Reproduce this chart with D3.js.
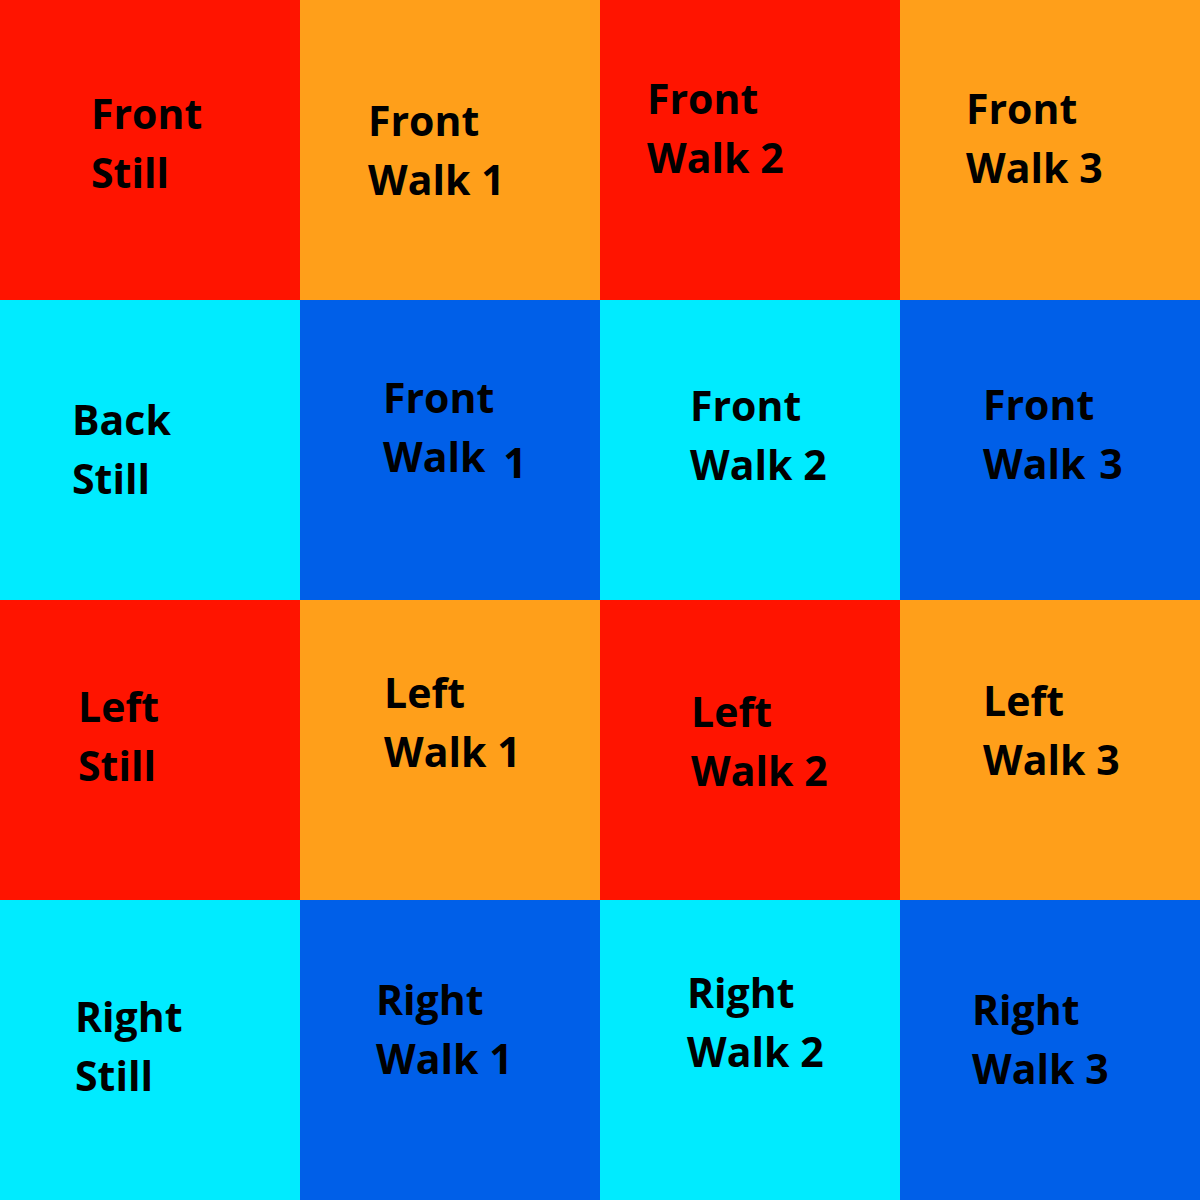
<!DOCTYPE html>
<html>
<head>
    <meta charset="utf-8">
    <script src="https://d3js.org/d3.v7.min.js"></script>
</head>
<style>
    body { margin: 0px; }
    .cell-label {
      font-family: "Open Sans", sans-serif;
      font-weight: bold;
      font-size: 41px;
      fill: #000;
    }
</style>
<body>
<div id="my_dataviz"></div>
<script>
    // grid rows / columns
    var rows = ["r0", "r1", "r2", "r3"];
    var cols = ["c0", "c1", "c2", "c3"];

    // first and second line of each cell, row by row
    var line1 = [
        "Front", "Front", "Front", "Front",
        "Back", "Front", "Front", "Front",
        "Left", "Left", "Left", "Left",
        "Right", "Right", "Right", "Right"
    ];
    var line2 = [
        "Still", "Walk", "Walk", "Walk",
        "Still", "Walk", "Walk", "Walk",
        "Still", "Walk", "Walk", "Walk",
        "Still", "Walk", "Walk", "Walk"
    ];
    var frameNo = [
        "", "1", "2", "3",
        "", "1", "2", "3",
        "", "1", "2", "3",
        "", "1", "2", "3"
    ];
    // colour group of each cell
    var group = [
        "A", "B", "A", "B",
        "C", "D", "C", "D",
        "A", "B", "A", "B",
        "C", "D", "C", "D"
    ];

    var width = 1200, height = 1200;

    var svg = d3.select("#my_dataviz")
        .append("svg")
        .attr("width", width)
        .attr("height", height);

    var x = d3.scaleBand().domain(cols).range([0, width]);
    var y = d3.scaleBand().domain(rows).range([0, height]);
    var color = d3.scaleOrdinal()
        .domain(["A", "B", "C", "D"])
        .range(["#ff1400", "#ff9f1a", "#00ebff", "#005fe8"]);

    // hand placed text, [dx, baseline of first line] inside each cell
    var textPos = [
        [91, 129], [68, 136], [47, 114], [66, 124],
        [72, 135], [83, 113], [90, 121], [83, 120],
        [78, 122], [84, 108], [91, 127], [83, 116],
        [75, 132], [76, 115], [87, 108], [72, 125]
    ];
    // extra nudge of the number [dx, dy]
    var numShift = [
        [0, 0], [0, 0], [0, 0], [0, 0],
        [0, 0], [7, 6], [0, 0], [3, 0],
        [0, 0], [0, 0], [0, 0], [0, 0],
        [0, 0], [0, 0], [0, 0], [0, 0]
    ];

    var cells = d3.range(16).map(function (i) {
        return {
            row: rows[Math.floor(i / 4)],
            col: cols[i % 4],
            a: line1[i],
            b: line2[i],
            n: frameNo[i],
            g: group[i],
            dx: textPos[i][0],
            by: textPos[i][1],
            ns: numShift[i]
        };
    });

    svg.selectAll("rect")
        .data(cells)
        .enter()
        .append("rect")
        .attr("x", function (d) { return x(d.col); })
        .attr("y", function (d) { return y(d.row); })
        .attr("width", x.bandwidth() + 0.5)
        .attr("height", y.bandwidth() + 0.5)
        .style("fill", function (d) { return color(d.g); });

    var t = svg.selectAll(".cell-label")
        .data(cells)
        .enter()
        .append("text")
        .attr("class", "cell-label")
        .attr("x", function (d) { return x(d.col) + d.dx; })
        .attr("y", function (d) { return y(d.row) + d.by; });

    t.append("tspan").text(function (d) { return d.a; });
    t.append("tspan")
        .attr("x", function (d) { return x(d.col) + d.dx; })
        .attr("dy", 59)
        .text(function (d) { return d.b; });
    t.filter(function (d) { return d.n !== ""; })
        .append("tspan")
        .attr("dx", function (d) { return 11 + d.ns[0]; })
        .attr("dy", function (d) { return d.ns[1]; })
        .text(function (d) { return d.n; });
</script>
</body>
</html>
